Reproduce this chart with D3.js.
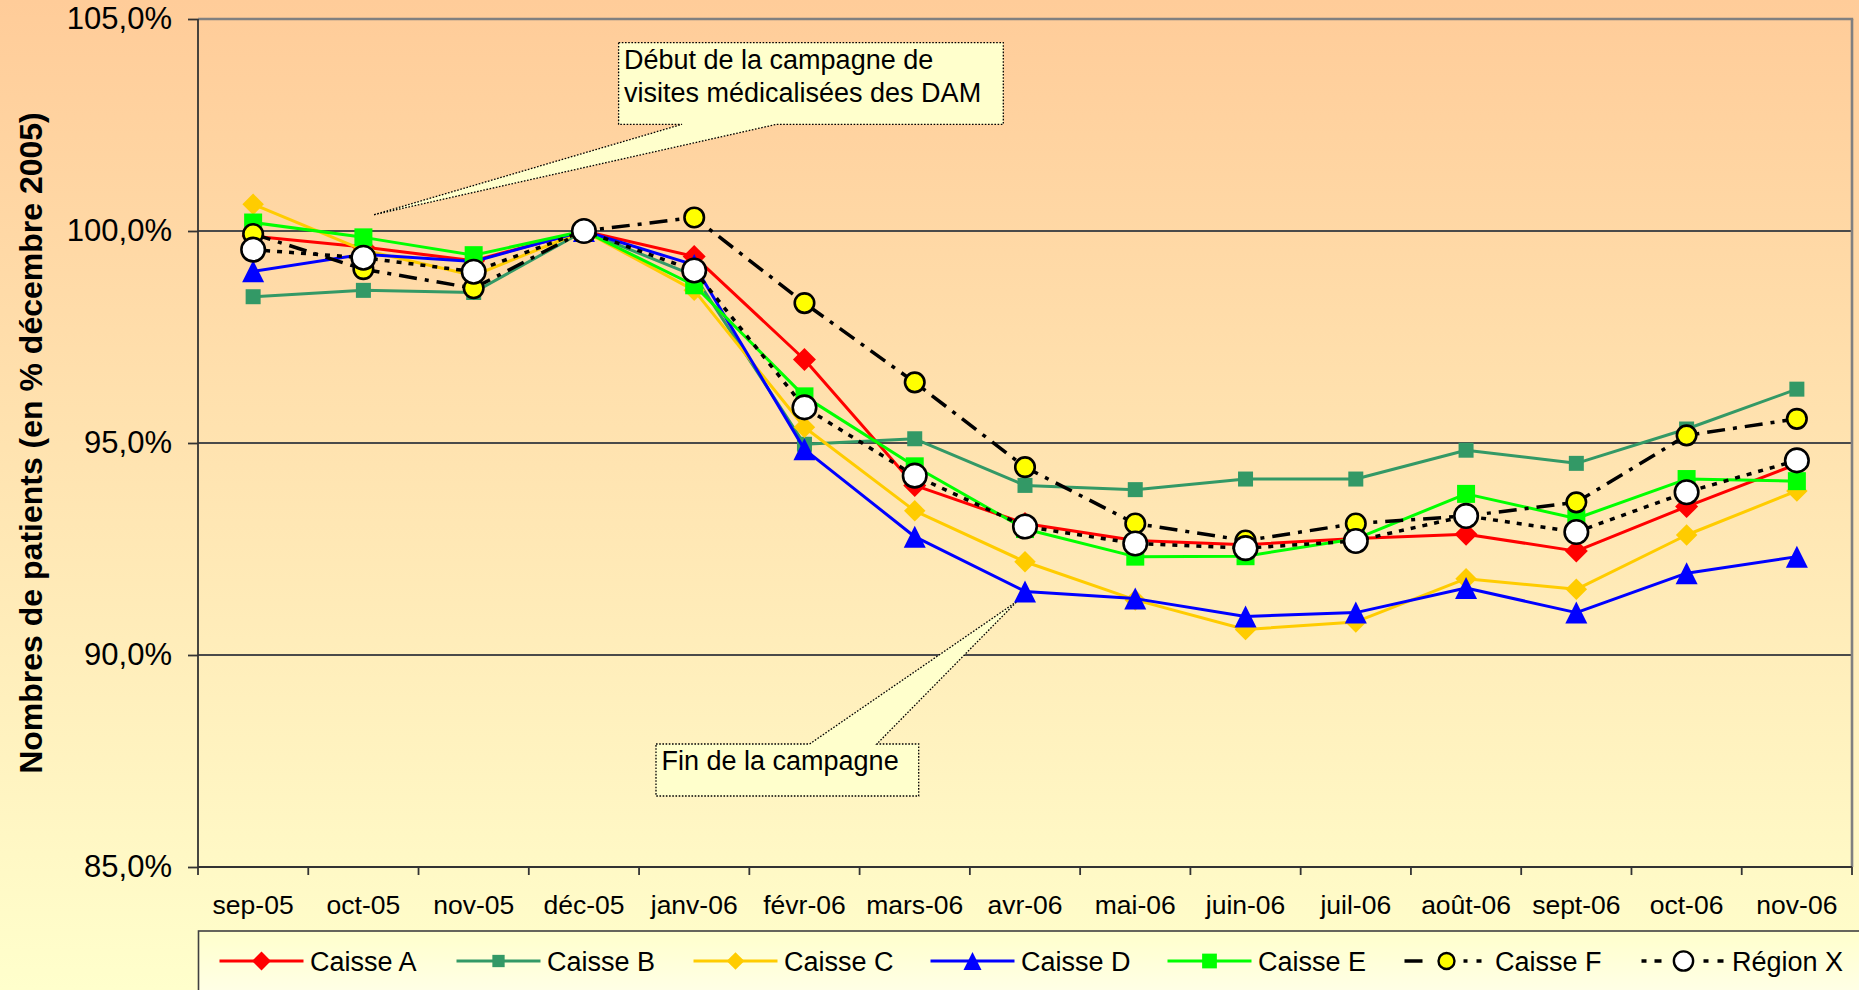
<!DOCTYPE html>
<html>
<head>
<meta charset="utf-8">
<script src="https://cdn.jsdelivr.net/npm/d3@7"></script>
<style>
  html, body { margin: 0; padding: 0; overflow: hidden; background: #FFE6B0; }
  svg { display: block; }
  text { font-family: "Liberation Sans", Arial, sans-serif; fill: #000; }
</style>
</head>
<body>
<svg id="chart" width="1859" height="990"></svg>
<script>
// ---------- DATA ----------
const categories = ["sep-05","oct-05","nov-05","déc-05","janv-06","févr-06","mars-06","avr-06","mai-06","juin-06","juil-06","août-06","sept-06","oct-06","nov-06"];
const yTicks = [85, 90, 95, 100, 105];
const gridValues = [90, 95, 100];

const caisseA = [99.88, 99.62, 99.30, 100, 99.40, 96.97, 94.00, 93.10, 92.70, 92.60, 92.75, 92.85, 92.45, 93.50, 94.50];
const caisseB = [98.45, 98.60, 98.55, 100, 98.95, 94.97, 95.10, 94.00, 93.90, 94.15, 94.15, 94.83, 94.52, 95.33, 96.27];
const caisseC = [100.63, 99.55, 98.95, 100, 98.60, 95.37, 93.40, 92.20, 91.30, 90.60, 90.78, 91.80, 91.55, 92.83, 93.87];
const caisseD = [99.05, 99.45, 99.28, 100, 99.20, 94.85, 92.79, 91.50, 91.33, 90.91, 91.00, 91.58, 91.00, 91.93, 92.32];
const caisseE = [100.20, 99.85, 99.43, 100, 98.72, 96.10, 94.45, 92.97, 92.32, 92.33, 92.74, 93.80, 93.22, 94.15, 94.10];
const caisseF = [99.93, 99.10, 98.65, 100, 100.32, 98.30, 96.43, 94.43, 93.10, 92.70, 93.10, 93.28, 93.60, 95.18, 95.57];
const regionX = [99.56, 99.37, 99.04, 100, 99.07, 95.84, 94.23, 93.03, 92.63, 92.52, 92.69, 93.28, 92.90, 93.84, 94.59];

const seriesNames = ["Caisse A","Caisse B","Caisse C","Caisse D","Caisse E","Caisse F","Région X"];
const seriesValues = [caisseA, caisseB, caisseC, caisseD, caisseE, caisseF, regionX];

const yTitle = "Nombres de patients (en % décembre 2005)";
const note1 = ["Début de la campagne de", "visites médicalisées des DAM"];
const note2 = ["Fin de la campagne"];

// ---------- STYLES ----------
const styles = [
  {stroke:"#FF0000", width:3, dash:null, legDash:null, marker:"diamond", size:23, fill:"#FF0000", mstroke:"none"},
  {stroke:"#339966", width:3, dash:null, legDash:null, marker:"square", size:15, fill:"#339966", mstroke:"none"},
  {stroke:"#FFCC00", width:3, dash:null, legDash:null, marker:"diamond", size:21.5, fill:"#FFCC00", mstroke:"none"},
  {stroke:"#0000FF", width:3, dash:null, legDash:null, marker:"triangle", size:22, fill:"#0000FF", mstroke:"none"},
  {stroke:"#00FF00", width:3, dash:null, legDash:null, marker:"square", size:18, fill:"#00FF00", mstroke:"none"},
  {stroke:"#000000", width:3.5, dash:"18,8,4,8", legDash:"18,41,4,9,5,20", marker:"circle", size:19.5, fill:"#FFFF00", mstroke:"#000"},
  {stroke:"#000000", width:3.5, dash:"5,7", legDash:"5,8,7,42,5,9,6,20", marker:"circle", size:23.5, fill:"#FFFFFF", mstroke:"#000"}
];

function markerPath(type, s) {
  const h = s / 2;
  if (type === "diamond") return `M0,${-h}L${h},0L0,${h}L${-h},0Z`;
  if (type === "square") return `M${-h},${-h}H${h}V${h}H${-h}Z`;
  if (type === "triangle") return `M0,${-h}L${h},${h}L${-h},${h}Z`;
  if (type === "circle") return `M${h},0A${h},${h} 0 1,1 ${-h},0A${h},${h} 0 1,1 ${h},0Z`;
  return "";
}

// ---------- LAYOUT ----------
const W = 1859, H = 990;
const plot = {left: 198, right: 1852, top: 19, bottom: 867};

const svg = d3.select("#chart");
const defs = svg.append("defs");
const bg = defs.append("linearGradient").attr("id","bg").attr("x1",0).attr("y1",0).attr("x2",0).attr("y2",1);
bg.append("stop").attr("offset","0%").attr("stop-color","#FFCC99");
bg.append("stop").attr("offset","100%").attr("stop-color","#FFFFCC");
const lg = defs.append("linearGradient").attr("id","lg").attr("x1",0).attr("y1",0).attr("x2",0).attr("y2",1);
lg.append("stop").attr("offset","0%").attr("stop-color","#FFFFCC");
lg.append("stop").attr("offset","100%").attr("stop-color","#FFFFFF");

svg.append("rect").attr("x",0).attr("y",0).attr("width",W).attr("height",H).attr("fill","url(#bg)");

const x = d3.scaleBand().domain(categories).range([plot.left, plot.right]);
const y = d3.scaleLinear().domain([85, 105]).range([plot.bottom, plot.top]);
const cx = c => x(c) + x.bandwidth() / 2;

const locale = d3.formatLocale({decimal: ",", thousands: " ", grouping: [3], currency: ["", "€"]});
const fmt = v => locale.format(".1f")(v) + "%";

// gridlines
svg.append("g").selectAll("line").data(gridValues).join("line")
  .attr("x1", plot.left).attr("x2", plot.right)
  .attr("y1", d => y(d)).attr("y2", d => y(d))
  .attr("stroke", "#4a4a4a").attr("stroke-width", 1.8);

// top and right border
svg.append("line").attr("x1", plot.left).attr("x2", plot.right + 1.2).attr("y1", y(105)).attr("y2", y(105))
  .attr("stroke", "#808080").attr("stroke-width", 2.6);
svg.append("line").attr("x1", plot.right).attr("x2", plot.right).attr("y1", y(105)).attr("y2", y(85))
  .attr("stroke", "#808080").attr("stroke-width", 2.6);

// y axis
const yAxis = svg.append("g").attr("transform", `translate(${plot.left},0)`)
  .call(d3.axisLeft(y).tickValues(yTicks).tickSize(10).tickPadding(16).tickFormat(fmt));
yAxis.select(".domain").remove();
yAxis.selectAll(".tick line").attr("stroke", "#333").attr("stroke-width", 1.8);
yAxis.selectAll(".tick text").attr("font-size", 31).attr("font-family", "Liberation Sans, Arial, sans-serif").attr("fill","#000");
svg.append("line").attr("x1", plot.left).attr("x2", plot.left).attr("y1", plot.top).attr("y2", plot.bottom)
  .attr("stroke", "#333").attr("stroke-width", 1.8);

// x axis
const xAxis = svg.append("g").attr("transform", `translate(0,${plot.bottom})`)
  .call(d3.axisBottom(x).tickSize(0).tickPadding(28.5));
xAxis.select(".domain").remove();
xAxis.selectAll(".tick text").attr("font-size", 26.5).attr("font-family", "Liberation Sans, Arial, sans-serif").attr("fill","#000");
const boundaries = d3.range(categories.length + 1).map(i => plot.left + i * x.step());
svg.append("g").selectAll("line").data(boundaries).join("line")
  .attr("x1", d => d).attr("x2", d => d).attr("y1", plot.bottom).attr("y2", plot.bottom + 8)
  .attr("stroke", "#333").attr("stroke-width", 1.8);
svg.append("line").attr("x1", plot.left).attr("x2", plot.right).attr("y1", plot.bottom).attr("y2", plot.bottom)
  .attr("stroke", "#333").attr("stroke-width", 2);

// y title
svg.append("text").attr("transform", `translate(41.5,${(plot.top + plot.bottom) / 2}) rotate(-90)`)
  .attr("text-anchor", "middle").attr("font-size", 32).attr("font-weight", "bold").text(yTitle);

// annotations (behind series)
function callout(pathD, lines, tx, ty, lh) {
  const g = svg.append("g");
  g.append("path").attr("d", pathD).attr("fill", "#FFFFCC")
    .attr("stroke", "#000").attr("stroke-width", 1.3).attr("stroke-dasharray", "1.6,1.6");
  lines.forEach((t, i) => g.append("text").attr("x", tx).attr("y", ty + i * lh).attr("font-size", 27).text(t));
}
// note 1: box top-left, tip near oct-05 above 100%
{
  const tipX = cx("oct-05") + 10, tipY = y(100.38);
  const bx0 = 618.6, bx1 = 1003.3, by0 = 42.7, by1 = 124.3;
  const d = `M${bx0},${by0}H${bx1}V${by1}H776.7L${tipX},${tipY}L682,${by1}H${bx0}Z`;
  callout(d, note1, 624, 68.5, 33);
}
// note 2: box below, tip at avr-06 point of Caisse D
{
  const tipX = cx("avr-06") - 8, tipY = y(caisseD[7]) + 10;
  const bx0 = 656, bx1 = 918.7, by0 = 744, by1 = 796;
  const d = `M${bx0},${by0}H809.6L${tipX},${tipY}L876.8,${by0}H${bx1}V${by1}H${bx0}Z`;
  callout(d, note2, 661.5, 770, 33);
}

// series
const line = d3.line().x((d, i) => cx(categories[i])).y(d => y(d));
seriesValues.forEach((vals, si) => {
  const st = styles[si];
  const g = svg.append("g");
  g.append("path").datum(vals).attr("d", line).attr("fill", "none")
    .attr("stroke", st.stroke).attr("stroke-width", st.width)
    .attr("stroke-dasharray", st.dash).attr("stroke-linejoin", "round");
  g.selectAll("path.m").data(vals).join("path").attr("class", "m")
    .attr("transform", (d, i) => `translate(${cx(categories[i])},${y(d)})`)
    .attr("d", markerPath(st.marker, st.size))
    .attr("fill", st.fill)
    .attr("stroke", st.mstroke).attr("stroke-width", st.mstroke === "none" ? 0 : 2.6);
});

// legend
const legTop = 931, legLeft = 198.5;
svg.append("rect").attr("x", legLeft).attr("y", legTop).attr("width", W).attr("height", 120)
  .attr("fill", "url(#lg)").attr("stroke", "#404040").attr("stroke-width", 1.6);
const legY = 961;
seriesNames.forEach((name, i) => {
  const st = styles[i];
  const x0 = 219.5 + i * 237;
  const g = svg.append("g");
  g.append("line").attr("x1", x0).attr("x2", x0 + 84).attr("y1", legY).attr("y2", legY)
    .attr("stroke", st.stroke).attr("stroke-width", st.width).attr("stroke-dasharray", st.legDash);
  g.append("path").attr("transform", `translate(${x0 + 42},${legY})`)
    .attr("d", markerPath(st.marker, st.size * 0.82))
    .attr("fill", st.fill).attr("stroke", st.mstroke).attr("stroke-width", st.mstroke === "none" ? 0 : 2.4);
  g.append("text").attr("x", x0 + 90.5).attr("y", legY + 9.5).attr("font-size", 27).text(name);
});
</script>
</body>
</html>
